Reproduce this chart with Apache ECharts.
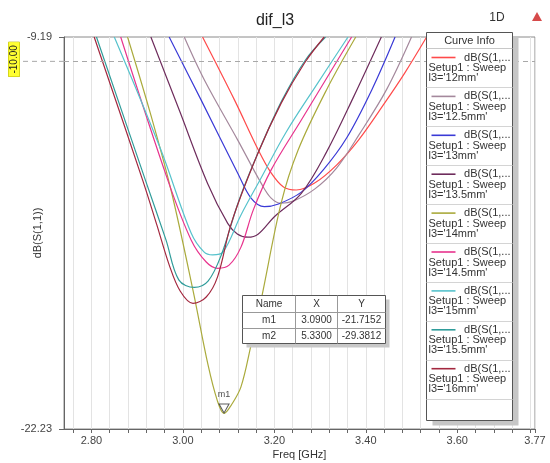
<!DOCTYPE html>
<html><head><meta charset="utf-8">
<script src="https://cdn.jsdelivr.net/npm/echarts@6/dist/echarts.min.js"></script>
<style>html,body{margin:0;padding:0;background:#fff}#c{width:550px;height:463px}</style>
</head><body><div id="c"></div>
<script>
// ---------- data ----------
const sweepValues = ['12mm','12.5mm','13mm','13.5mm','14mm','14.5mm','15mm','15.5mm','16mm'];
const curveColors = ['#ff4a4a','#a4889c','#3a3ad6','#6e2c5c','#aaaa3c','#e8348e','#56c2cc','#2f9c9a','#a3283f'];

const s12mm  = [[3.043,-9.19],[3.113,-11.29],[3.165,-12.95],[3.193,-13.71],[3.220,-14.18],[3.248,-14.28],[3.288,-14.05],[3.336,-13.45],[3.384,-12.62],[3.441,-11.39],[3.485,-10.39],[3.533,-9.19]];
const s12p5mm= [[3.003,-9.19],[3.047,-10.62],[3.120,-12.62],[3.171,-14.05],[3.193,-14.55],[3.215,-14.72],[3.241,-14.65],[3.288,-14.25],[3.336,-13.55],[3.386,-12.42],[3.445,-10.95],[3.500,-9.19]];
const s13mm  = [[2.970,-9.19],[3.040,-11.29],[3.120,-13.72],[3.149,-14.55],[3.178,-14.835],[3.209,-14.745],[3.259,-14.35],[3.307,-13.61],[3.358,-12.55],[3.413,-10.95],[3.464,-9.19]];
const s13p5mm= [[2.930,-9.19],[2.992,-11.62],[3.054,-14.06],[3.098,-15.39],[3.119,-15.74],[3.142,-15.85],[3.165,-15.74],[3.200,-15.17],[3.259,-14.39],[3.314,-13.02],[3.373,-11.19],[3.434,-9.19]];
const s14mm  = [[2.879,-9.19],[2.930,-11.79],[2.974,-14.28],[3.022,-17.61],[3.055,-20.10],[3.075,-21.27],[3.090,-21.7152],[3.106,-21.43],[3.127,-20.83],[3.149,-19.44],[3.171,-17.94],[3.215,-14.71],[3.252,-12.95],[3.314,-10.95],[3.378,-9.19]];
const s14p5mm= [[2.864,-9.19],[2.967,-13.95],[3.018,-15.94],[3.051,-16.675],[3.076,-16.885],[3.101,-16.78],[3.127,-16.18],[3.154,-14.94],[3.193,-13.61],[3.259,-11.95],[3.369,-9.19]];
const s15mm  = [[2.850,-9.19],[2.952,-12.95],[3.018,-15.71],[3.046,-16.34],[3.065,-16.44],[3.088,-16.34],[3.127,-15.11],[3.171,-13.88],[3.226,-12.35],[3.292,-10.79],[3.361,-9.19]];
const s15p5mm= [[2.811,-9.19],[2.918,-13.95],[2.963,-15.94],[2.991,-17.27],[3.025,-17.52],[3.055,-17.31],[3.084,-16.44],[3.123,-14.61],[3.167,-12.95],[3.217,-11.29],[3.268,-9.955],[3.312,-9.19]];
const s16mm  = [[2.806,-9.19],[2.912,-13.95],[2.943,-15.44],[2.970,-16.77],[2.994,-17.64],[3.022,-18.05],[3.051,-17.84],[3.076,-17.16],[3.106,-15.38],[3.164,-13.06],[3.215,-11.39],[3.266,-10.055],[3.309,-9.19]];
const curves = [s12mm, s12p5mm, s13mm, s13p5mm, s14mm, s14p5mm, s15mm, s15p5mm, s16mm];

const xRange = [2.74, 3.77];
const yRange = [-22.23, -9.19];
const xTickValues = [2.76,2.80,2.84,2.88,2.92,2.96,3.00,3.04,3.08,3.12,3.16,3.20,3.24,3.28,3.32,3.36,3.40,3.44,3.48,3.52,3.56,3.60,3.64,3.68,3.72,3.76,3.77];
const xLabelValues = [2.80, 3.00, 3.20, 3.40, 3.60, 3.77];
const yLabelValues = [-22.23, -9.19];
const refLevel = -10;

const markerNames = ['m1','m2'];
const markerFreq  = [3.09, 5.33];
const markerVal   = [-21.7152, -29.3812];

// ---------- chart ----------
const FONT = '"Liberation Sans", Arial, sans-serif';
const chart = echarts.init(document.getElementById('c'), null, {renderer:'canvas'});

const lineSeries = curves.map((d, i) => ({
  name: "dB(S(1,1)) Setup1 : Sweep l3='" + sweepValues[i] + "'",
  type: 'line', data: d, smooth: 0.35, symbol: 'none', clip: true,
  lineStyle: {color: curveColors[i], width: 1.2},
  itemStyle: {color: curveColors[i]}, z: 3
}));

const visibleMarkers = markerNames.map((n,i)=>({name:n, value:[markerFreq[i], markerVal[i]]}))
  .filter(m => m.value[0] >= xRange[0] && m.value[0] <= xRange[1]);

chart.setOption({
  animation: false,
  backgroundColor: '#fff',
  title: {text: 'dif_l3', left: 'center', top: 8,
    textStyle: {fontFamily: FONT, fontSize: 16, fontWeight: 'normal', color: '#222'}},
  grid: {left: 64, right: 15, top: 37, bottom: 34, show: true, borderColor: '#8a8a8a', borderWidth: 1,
    backgroundColor: '#fff', containLabel: false, outerBoundsMode: 'none'},
  xAxis: {
    type: 'value', min: xRange[0], max: xRange[1],
    name: 'Freq [GHz]', nameLocation: 'middle', nameGap: 20, nameMoveOverlap: false,
    nameTextStyle: {fontFamily: FONT, fontSize: 11, color: '#333'},
    axisLine: {show: true, lineStyle: {color: '#666'}},
    axisTick: {show: true, inside: false, length: 4, customValues: xTickValues, lineStyle: {color: '#666'}},
    axisLabel: {customValues: xLabelValues, margin: 6, fontFamily: FONT, fontSize: 11, color: '#444',
      formatter: v => v.toFixed(2)},
    splitLine: {show: true, lineStyle: {color: '#e3e3e3', width: 1}}
  },
  yAxis: {
    type: 'value', min: yRange[0], max: yRange[1],
    name: 'dB(S(1,1))', nameLocation: 'middle', nameGap: 21, nameRotate: 90, nameMoveOverlap: false,
    nameTextStyle: {fontFamily: FONT, fontSize: 11, color: '#333'},
    axisLine: {show: true, lineStyle: {color: '#666'}},
    axisTick: {show: true, inside: false, length: 5, customValues: yLabelValues, lineStyle: {color: '#666'}},
    axisLabel: {customValues: yLabelValues, margin: 12, fontFamily: FONT, fontSize: 11, color: '#444',
      formatter: v => v.toFixed(2)},
    splitLine: {show: false}
  },
  series: [
    {type: 'line', data: [], symbol: 'none', z: 2,
      markLine: {silent: true, symbol: 'none', label: {show: false},
        lineStyle: {type: [5, 4], color: '#a8a8a8', width: 1},
        data: [{yAxis: refLevel}]}},
    ...lineSeries,
    {type: 'scatter', data: visibleMarkers, symbol: 'triangle', symbolRotate: 180,
      symbolSize: [10, 9], symbolOffset: [0, -5], z: 10,
      itemStyle: {color: 'rgba(255,255,255,0)', borderColor: '#333', borderWidth: 1},
      label: {show: true, position: 'top', distance: 5, formatter: p => p.name,
        fontFamily: FONT, fontSize: 9, color: '#222'}}
  ]
});

// ---------- overlays (legend box, marker table, ref-level tag) ----------
const refPx = chart.convertToPixel({xAxisIndex: 0, yAxisIndex: 0}, [xRange[0], refLevel]);
const yRef = refPx[1], gridLeft = refPx[0];
const g = [];
const txt = (x, y, t, o = {}) => ({type: 'text', x, y, z: o.z || 102,
  style: Object.assign({text: t, font: (o.size || 10) + 'px ' + FONT, fill: o.fill || '#333',
    align: o.align || 'left', verticalAlign: 'middle'}, o.style || {})});

// header decorations
g.push(txt(497, 18, '1D', {size: 12, align: 'center', fill: '#333'}));
g.push({type: 'polygon', z: 102, shape: {points: [[537, 12], [542, 21], [532, 21]]}, style: {fill: '#d64a4a'}});

// ref level extension and tag
g.push({type: 'line', z: 5, shape: {x1: 23, y1: yRef, x2: gridLeft, y2: yRef},
  style: {stroke: '#a8a8a8', lineWidth: 1, lineDash: [5, 4]}});
g.push({type: 'text', x: 14, y: yRef - 2, rotation: Math.PI / 2, z: 102,
  style: {text: refLevel.toFixed(2), font: '10px ' + FONT, fill: '#222', align: 'center', verticalAlign: 'middle',
    backgroundColor: '#ffff33', padding: [1, 3, 0, 3], borderColor: '#b0b000', borderWidth: 0.5}});

// legend box
const LX = 426.5, LY = 32.5, LW = 86, LH = 388, ROW = 38.9;
g.push({type: 'rect', z: 100, shape: {x: LX + 6, y: LY + 5, width: LW, height: LH}, style: {fill: '#c6c6c6'}});
g.push({type: 'rect', z: 101, shape: {x: LX, y: LY, width: LW, height: LH}, style: {fill: '#fff', stroke: '#555', lineWidth: 1}});
g.push(txt(LX + LW / 2, 41, 'Curve Info', {size: 11, align: 'center'}));
const sep0 = 48.5;
g.push({type: 'line', z: 102, shape: {x1: LX, y1: sep0, x2: LX + LW, y2: sep0}, style: {stroke: '#c8c8c8', lineWidth: 1}});
sweepValues.forEach((sv, i) => {
  const s = sep0 + i * ROW;
  g.push({type: 'line', z: 102, shape: {x1: LX + 5, y1: s + 9, x2: LX + 29, y2: s + 9},
    style: {stroke: curveColors[i], lineWidth: 1.6}});
  g.push(txt(LX + LW - 2, s + 9, 'dB(S(1,...', {align: 'right', size: 11}));
  g.push(txt(LX + 2, s + 19.5, 'Setup1 : Sweep', {size: 11}));
  g.push(txt(LX + 2, s + 29.5, "l3='" + sv + "'", {size: 11}));
  const e = Math.round(s + ROW) + 0.5;
  g.push({type: 'line', z: 102, shape: {x1: LX, y1: e, x2: LX + LW, y2: e}, style: {stroke: '#d4d4d4', lineWidth: 1}});
});

// marker table
const TX = 242.5, TY = 295.5, colX = [0, 53, 95, 143], rowY = [0, 17, 33, 48];
g.push({type: 'rect', z: 100, shape: {x: TX + 4, y: TY + 4, width: colX[3], height: rowY[3]}, style: {fill: '#c8c8c8'}});
g.push({type: 'rect', z: 101, shape: {x: TX, y: TY, width: colX[3], height: rowY[3]}, style: {fill: '#fff', stroke: '#555', lineWidth: 1}});
[1, 2].forEach(k => {
  g.push({type: 'line', z: 102, shape: {x1: TX + colX[k], y1: TY, x2: TX + colX[k], y2: TY + rowY[3]}, style: {stroke: '#999', lineWidth: 1}});
  g.push({type: 'line', z: 102, shape: {x1: TX, y1: TY + rowY[k], x2: TX + colX[3], y2: TY + rowY[k]}, style: {stroke: '#999', lineWidth: 1}});
});
const cell = (c, r, t) => g.push(txt(TX + (colX[c] + colX[c + 1]) / 2, TY + (rowY[r] + rowY[r + 1]) / 2, t, {align: 'center', size: 10}));
cell(0, 0, 'Name'); cell(1, 0, 'X'); cell(2, 0, 'Y');
markerNames.forEach((n, i) => {
  cell(0, i + 1, n); cell(1, i + 1, markerFreq[i].toFixed(4)); cell(2, i + 1, markerVal[i].toFixed(4));
});

chart.setOption({graphic: g});
</script></body></html>
